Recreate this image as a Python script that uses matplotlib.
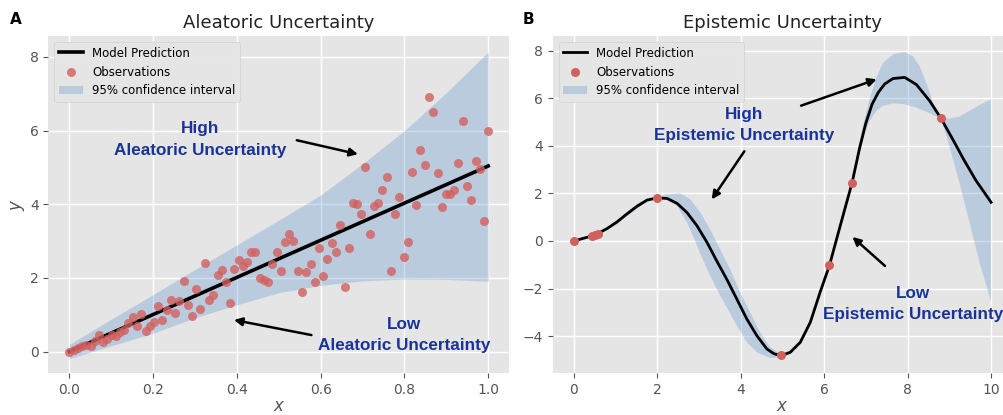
import matplotlib
matplotlib.use("Agg")
import matplotlib.pyplot as plt

plt.style.use("ggplot")

# ---------------- Panel A data (aleatoric) ----------------
obs_a_x = [0.0, .010, .020, .030, .040, .051, .061, .071, .081, .091,
           .101, .111, .121, .131, .141, .152, .162, .172, .182, .192,
           .202, .212, .222, .232, .242, .253, .263, .273, .283, .293,
           .303, .313, .323, .333, .343, .354, .364, .374, .384, .394,
           .404, .414, .424, .434, .444, .455, .465, .475, .485, .495,
           .505, .515, .525, .535, .545, .556, .566, .576, .586, .596,
           .606, .616, .626, .636, .646, .657, .667, .677, .687, .697,
           .707, .717, .727, .737, .747, .758, .768, .778, .788, .798,
           .808, .818, .828, .838, .848, .859, .869, .879, .889, .899,
           .909, .919, .929, .939, .949, .960, .970, .980, .990, 1.0]
obs_a_y = [0.00, 0.05, 0.09, 0.14, 0.18, 0.15, 0.29, 0.46, 0.27, 0.35,
           0.46, 0.43, 0.53, 0.58, 0.77, 0.95, 0.69, 1.03, 0.56, 0.69,
           0.81, 1.23, 0.87, 1.14, 1.40, 1.04, 1.38, 1.92, 1.26, 0.98,
           1.69, 1.16, 2.40, 1.40, 1.53, 2.07, 2.23, 1.89, 1.33, 2.25,
           2.50, 2.32, 2.44, 2.71, 2.71, 2.00, 1.95, 1.90, 2.39, 2.71,
           2.20, 2.97, 3.20, 3.00, 2.20, 1.62, 2.15, 2.37, 1.89, 2.82,
           2.05, 2.52, 2.95, 2.70, 3.45, 1.76, 2.82, 4.04, 4.00, 3.75,
           5.02, 3.20, 3.95, 4.04, 4.40, 4.75, 2.20, 3.73, 4.20, 2.58,
           2.97, 4.87, 3.98, 5.47, 5.07, 6.90, 6.50, 4.85, 3.93, 4.29,
           4.29, 4.40, 5.13, 6.25, 4.49, 4.11, 5.18, 4.97, 3.54, 6.00]
pred_a_x = [0.0, 1.0]
pred_a_y = [0.0, 5.04]
band_a_x = [0.0, 0.1, 0.2, 0.3, 0.4, 0.5, 0.6, 0.7, 0.8, 0.9, 1.0]
band_a_up = [0.20, 0.88, 1.55, 2.23, 2.90, 3.57, 4.25, 5.10, 6.00, 7.03, 8.14]
band_a_lo = [-0.19, 0.16, 0.50, 0.92, 1.27, 1.60, 1.80, 1.92, 1.97, 1.96, 1.91]

# ---------------- Panel B data (epistemic) ----------------
obs_b_x = [0.0, 0.44, 0.52, 0.58, 2.0, 4.97, 6.13, 6.66, 8.8]
obs_b_y = [0.0, 0.21, 0.27, 0.31, 1.82, -4.81, -1.02, 2.44, 5.16]
pred_b_x = [0.0, 0.5, 0.8, 1.04, 1.28, 1.52, 1.76, 2.0, 2.24, 2.48, 2.72, 2.96,
            3.2, 3.43, 3.67, 3.91, 4.15, 4.39, 4.63, 4.8, 4.96, 5.19, 5.43,
            5.67, 5.91, 6.13, 6.39, 6.67, 6.85, 7.0, 7.15, 7.3, 7.45, 7.65,
            7.93, 8.21, 8.53, 8.8, 9.08, 9.36, 9.64, 10.0]
pred_b_y = [0.0, 0.24, 0.52, 0.8, 1.14, 1.46, 1.72, 1.81, 1.79, 1.58, 1.19, 0.63,
            -0.07, -0.84, -1.61, -2.44, -3.28, -3.98, -4.54, -4.74, -4.82, -4.68,
            -4.26, -3.42, -2.13, -1.02, 0.66, 2.44, 3.9, 4.95, 5.75, 6.25, 6.6,
            6.83, 6.88, 6.58, 5.89, 5.16, 4.28, 3.38, 2.54, 1.63]
band_b_up_x = [0.0, 0.5, 0.8, 1.04, 1.28, 1.52, 1.76, 2.0, 2.24, 2.56, 2.8, 3.04,
               3.27, 3.51, 3.75, 3.99, 4.23, 4.47, 4.71, 5.03, 5.35, 5.59, 5.91,
               6.13, 6.39, 6.67, 6.8, 6.93, 7.09, 7.25, 7.41, 7.65, 7.93, 8.13,
               8.29, 8.45, 8.61, 8.8, 9.0, 9.24, 9.48, 9.76, 10.0]
band_b_up_y = [0.0, 0.27, 0.56, 0.88, 1.24, 1.56, 1.78, 1.82, 1.97, 2.0, 1.75, 1.19,
               0.49, -0.35, -1.19, -2.16, -3.0, -3.84, -4.47, -4.82, -4.44, -3.72,
               -2.08, -1.0, 0.7, 2.46, 3.7, 4.84, 5.96, 6.86, 7.49, 7.84, 7.95,
               7.77, 7.35, 6.65, 5.82, 5.17, 5.15, 5.23, 5.47, 5.75, 5.96]
band_b_lo_x = [0.0, 0.5, 0.8, 1.04, 1.28, 1.52, 1.76, 2.0, 2.24, 2.48, 2.72, 2.88,
               3.04, 3.2, 3.43, 3.67, 3.91, 4.15, 4.39, 4.71, 4.96, 5.19, 5.43,
               5.67, 5.91, 6.13, 6.39, 6.67, 6.8, 6.93, 7.09, 7.25, 7.41, 7.65,
               7.93, 8.21, 8.53, 8.8, 9.0, 9.24, 9.48, 9.72, 10.0]
band_b_lo_y = [0.0, 0.21, 0.48, 0.72, 1.04, 1.36, 1.66, 1.80, 1.74, 1.47, 0.77, 0.14,
               -0.56, -1.19, -2.03, -2.79, -3.56, -4.26, -4.68, -4.92, -4.90, -4.76,
               -4.30, -3.47, -2.18, -1.04, 0.62, 2.42, 3.25, 4.3, 5.05, 5.47, 5.68,
               5.79, 5.75, 5.61, 5.37, 5.15, 4.0, 2.47, 0.8, -0.88, -2.55]

BAND_COLOR = "#6496D2"
BAND_ALPHA = 0.32
DOT_COLOR = "#D2605E"
TXT_COLOR = "#1A3399"

fig = plt.figure(figsize=(10.04, 4.15), dpi=100)
ax1 = fig.add_axes([0.0482, 0.1012, 0.4589, 0.8121])
ax2 = fig.add_axes([0.5505, 0.1012, 0.4574, 0.8121])

for ax in (ax1, ax2):
    ax.set_facecolor("#E5E5E5")
    ax.grid(True, color="white", lw=1.0)
    ax.tick_params(labelsize=10, colors="#555555", labelcolor="#555555")
    for s in ax.spines.values():
        s.set_visible(False)

# Panel A
ax1.fill_between(band_a_x, band_a_lo, band_a_up, color=BAND_COLOR, alpha=BAND_ALPHA,
                 lw=0, label="95% confidence interval")
ax1.plot(pred_a_x, pred_a_y, color="black", lw=2.6, label="Model Prediction", zorder=3)
ax1.scatter(obs_a_x, obs_a_y, s=42, color=DOT_COLOR, alpha=0.8, lw=0,
            label="Observations", zorder=4)
ax1.set_xlim(-0.05, 1.05)
ax1.set_ylim(-0.58, 8.57)
ax1.set_xticks([0.0, 0.2, 0.4, 0.6, 0.8, 1.0])
ax1.set_yticks([0, 2, 4, 6, 8])
ax1.set_title("Aleatoric Uncertainty", fontsize=13, color="#222222", pad=6)
ax1.set_xlabel("$x$", fontsize=12, color="#555555", labelpad=0)
ax1.set_ylabel("$y$", fontsize=12, color="#555555", labelpad=2)
h, l = ax1.get_legend_handles_labels()
order = [l.index("Model Prediction"), l.index("Observations"), l.index("95% confidence interval")]
ax1.legend([h[i] for i in order], [l[i] for i in order], loc="upper left",
           fontsize=8.5, facecolor="#E5E5E5", edgecolor="#D0D0D0", framealpha=0.9)

tk = dict(fontsize=12.3, fontweight="bold", color=TXT_COLOR, ha="center", va="center",
          family=["Liberation Sans", "DejaVu Sans"], linespacing=1.55)
ax1.text(0.312, 5.76, "High\nAleatoric Uncertainty", **tk)
ax1.text(0.80, 0.45, "Low\nAleatoric Uncertainty", **tk)
ap = dict(arrowstyle="-|>", color="black", lw=1.8, mutation_scale=12, shrinkA=0, shrinkB=0)
ax1.annotate("", xy=(0.689, 5.36), xytext=(0.543, 5.74), arrowprops=ap)
ax1.annotate("", xy=(0.393, 0.86), xytext=(0.578, 0.45), arrowprops=ap)

# Panel B
ax2.fill(band_b_up_x + band_b_lo_x[::-1], band_b_up_y + band_b_lo_y[::-1],
         color=BAND_COLOR, alpha=BAND_ALPHA, lw=0, label="95% confidence interval")
ax2.plot(pred_b_x, pred_b_y, color="black", lw=2.0, label="Model Prediction", zorder=3)
ax2.scatter(obs_b_x, obs_b_y, s=42, color=DOT_COLOR, lw=0, label="Observations", zorder=4)
ax2.set_xlim(-0.5, 10.5)
ax2.set_ylim(-5.55, 8.62)
ax2.set_xticks([0, 2, 4, 6, 8, 10])
ax2.set_yticks([-4, -2, 0, 2, 4, 6, 8])
ax2.set_title("Epistemic Uncertainty", fontsize=13, color="#222222", pad=6)
ax2.set_xlabel("$x$", fontsize=12, color="#555555", labelpad=0)
h, l = ax2.get_legend_handles_labels()
order = [l.index("Model Prediction"), l.index("Observations"), l.index("95% confidence interval")]
ax2.legend([h[i] for i in order], [l[i] for i in order], loc="upper left",
           fontsize=8.5, facecolor="#E5E5E5", edgecolor="#D0D0D0", framealpha=0.9)
ax2.text(4.09, 4.87, "High\nEpistemic Uncertainty", **tk)
ax2.text(8.13, -2.65, "Low\nEpistemic Uncertainty", **tk)
ax2.annotate("", xy=(7.26, 6.8), xytext=(5.45, 5.69), arrowprops=ap)
ax2.annotate("", xy=(3.31, 1.75), xytext=(4.09, 3.77), arrowprops=ap)
ax2.annotate("", xy=(6.68, 0.17), xytext=(7.46, -1.05), arrowprops=ap)

fig.text(0.010, 0.952, "A", fontsize=11, fontweight="bold", ha="left", va="center")
fig.text(0.521, 0.952, "B", fontsize=11, fontweight="bold", ha="left", va="center")

fig.savefig("out.png", dpi=100)
